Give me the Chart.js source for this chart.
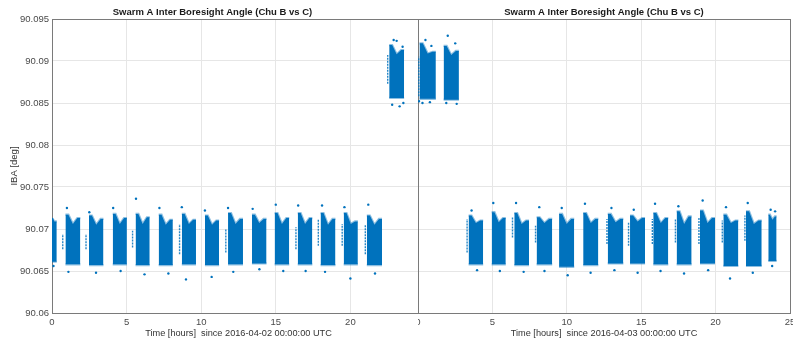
<!DOCTYPE html>
<html>
<head>
<meta charset="utf-8">
<script src="https://cdn.jsdelivr.net/npm/chart.js@4.4.1/dist/chart.umd.min.js"></script>
<style>
  html, body { margin: 0; padding: 0; background: #fff; }
  #wrap { position: relative; width: 793px; height: 339px; overflow: hidden; }
  .panel { position: absolute; top: 0; height: 339px; background: #fff; }
  #day1 { left: 0; width: 430px; }
  #day2 { left: 418px; width: 375px; }
</style>
</head>
<body>
<div id="wrap">
  <div class="panel" id="day1"><canvas id="day1Chart" width="430" height="339"></canvas></div>
  <div class="panel" id="day2"><canvas id="day2Chart" width="375" height="339"></canvas></div>
</div>
<script>
const xTicks = [0, 5, 10, 15, 20, 25];
const yTicks = [90.06, 90.065, 90.07, 90.075, 90.08, 90.085, 90.09, 90.095];
const yTickLabels = ["90.06", "90.065", "90.07", "90.075", "90.08", "90.085", "90.09", "90.095"];

// one row per pass: [start h, end h, top at start, top dip, top at end, bottom] in deg
const day1Passes = [
    [0.0, 0.32, 90.0713, 90.0709, 90.0709, 90.0661],
    [0.9, 1.9, 90.0717, 90.0706, 90.0713, 90.0658],
    [2.48, 3.45, 90.0716, 90.0705, 90.0712, 90.0657],
    [4.07, 5.02, 90.0718, 90.0706, 90.0713, 90.0658],
    [5.6, 6.55, 90.0718, 90.0706, 90.0714, 90.0657],
    [7.15, 8.1, 90.0717, 90.0705, 90.0711, 90.0657],
    [8.7, 9.65, 90.0718, 90.0706, 90.0711, 90.0658],
    [10.25, 11.2, 90.0716, 90.0705, 90.0710, 90.0657],
    [11.8, 12.8, 90.0719, 90.0706, 90.0712, 90.0658],
    [13.4, 14.38, 90.0717, 90.0707, 90.0712, 90.0659],
    [14.92, 15.9, 90.0719, 90.0706, 90.0713, 90.0658],
    [16.47, 17.45, 90.0719, 90.0706, 90.0713, 90.0658],
    [18.0, 19.0, 90.0719, 90.0705, 90.0712, 90.0657],
    [19.55, 20.5, 90.0719, 90.0706, 90.0709, 90.0658],
    [21.1, 22.12, 90.0716, 90.0705, 90.0712, 90.0657],
    [22.6, 23.6, 90.0919, 90.0908, 90.0913, 90.0856],
];
const day2Passes = [
    [0.1, 1.2, 90.0921, 90.0909, 90.0911, 90.0855],
    [1.72, 2.75, 90.0918, 90.0907, 90.0912, 90.0854],
    [3.4, 4.38, 90.0716, 90.0707, 90.0710, 90.0658],
    [4.95, 5.9, 90.0720, 90.0708, 90.0713, 90.0658],
    [6.47, 7.46, 90.0719, 90.0706, 90.0710, 90.0657],
    [7.97, 9.02, 90.0714, 90.0707, 90.0712, 90.0658],
    [9.48, 10.5, 90.0718, 90.0706, 90.0712, 90.0655],
    [11.1, 12.12, 90.0719, 90.0707, 90.0712, 90.0657],
    [12.75, 13.8, 90.0718, 90.0708, 90.0712, 90.0659],
    [14.25, 15.26, 90.0716, 90.0709, 90.0713, 90.0659],
    [15.81, 16.82, 90.0719, 90.0707, 90.0713, 90.0658],
    [17.38, 18.39, 90.0721, 90.0706, 90.0715, 90.0658],
    [18.95, 19.96, 90.0722, 90.0707, 90.0713, 90.0659],
    [20.52, 21.53, 90.0717, 90.0707, 90.0710, 90.0656],
    [22.04, 23.1, 90.0721, 90.0706, 90.0710, 90.0656],
    [23.54, 24.1, 90.0717, 90.0711, 90.0715, 90.0662],
];

// sparse samples just before a pass: [time h, low, high]
const day1Leads = [
    [0.72, 90.0676, 90.0694], [2.28, 90.0676, 90.0694], [5.4, 90.0678, 90.0698],
    [8.55, 90.0670, 90.0706], [11.65, 90.0672, 90.0700], [16.35, 90.0676, 90.0702],
    [17.85, 90.0680, 90.0712], [19.45, 90.0680, 90.0706], [21.0, 90.0670, 90.0705],
    [22.5, 90.0873, 90.0907],
];
const day2Leads = [
    [0.05, 90.0858, 90.0905], [3.3, 90.0672, 90.0712], [6.35, 90.0690, 90.0714],
    [7.9, 90.0684, 90.0704], [12.7, 90.0682, 90.0712], [14.15, 90.0680, 90.0708],
    [15.75, 90.0682, 90.0712], [17.3, 90.0684, 90.0712], [18.88, 90.0682, 90.0714],
    [20.45, 90.0684, 90.0710], [21.97, 90.0686, 90.0716],
];

// isolated samples outside the dense bands: [time h, deg]
const day1Outliers = [
    [1.0, 90.0725], [2.5, 90.0720], [4.1, 90.0725], [5.63, 90.0736], [7.2, 90.0725],
    [8.7, 90.0726], [10.25, 90.0722], [11.8, 90.0725], [13.45, 90.0724], [15.0, 90.0729],
    [16.5, 90.0728], [18.1, 90.0728], [19.6, 90.0726], [21.2, 90.0729],
    [1.1, 90.0649], [2.95, 90.0648], [6.2, 90.0646], [7.8, 90.0647], [8.98, 90.0640],
    [10.7, 90.0643], [12.15, 90.0649], [18.3, 90.0649], [20.0, 90.0641], [21.65, 90.0647],
    [0.1, 90.0656], [4.6, 90.0650], [13.9, 90.0652], [15.5, 90.0650], [17.0, 90.0650],
    [22.9, 90.0925], [23.1, 90.0924], [23.5, 90.0917], [22.8, 90.0848], [23.3, 90.0846], [23.55, 90.0850],
];
const day2Outliers = [
    [0.5, 90.0925], [0.9, 90.0918], [2.0, 90.0930], [2.5, 90.0921], [0.3, 90.0850],
    [0.8, 90.0851], [1.9, 90.0850], [2.6, 90.0849], [0.07, 90.0852],
    [19.13, 90.0734], [5.06, 90.0731], [6.59, 90.0731], [15.93, 90.0730], [22.16, 90.0731],
    [11.22, 90.0730], [9.66, 90.0725], [8.15, 90.0726], [3.6, 90.0722], [13.0, 90.0725],
    [14.5, 90.0723], [17.5, 90.0727], [20.7, 90.0726], [23.7, 90.0723], [24.0, 90.0721],
    [20.97, 90.0641], [10.06, 90.0645], [14.76, 90.0648], [17.88, 90.0647], [22.5, 90.0648],
    [3.97, 90.0651], [5.5, 90.0650], [7.1, 90.0649], [8.5, 90.0650], [11.6, 90.0648],
    [13.2, 90.0651], [16.3, 90.0650], [19.5, 90.0651], [23.8, 90.0656],
];

const BLUE = "#0072BD";
const FUZZ = "rgba(0, 114, 189, 0.45)";
const GRID = "#e6e6e6";
const AXIS = "#7a7a7a";
const TICK = "#4a4a4a";
const FONT = "'Liberation Sans', Arial, Helvetica, sans-serif";

Chart.defaults.font.family = FONT;
Chart.defaults.color = TICK;

function envelopes(passes) {
    const upper = [];
    const lower = [];
    passes.forEach(([t0, t1, topStart, dip, topEnd, bottom]) => {
        const w = t1 - t0;
        upper.push(
            { x: t0, y: topStart }, { x: t0 + 0.2 * w, y: topStart },
            { x: t0 + 0.5 * w, y: dip }, { x: t0 + 0.8 * w, y: topEnd },
            { x: t1, y: topEnd }, { x: t1, y: null }
        );
        lower.push({ x: t0, y: bottom }, { x: t1, y: bottom }, { x: t1, y: null });
    });
    return { upper, lower };
}

function leadSegments(leads) {
    const pts = [];
    leads.forEach(([t, lo, hi]) => pts.push({ x: t, y: lo }, { x: t, y: hi }, { x: t, y: null }));
    return pts;
}

// keep the plot box fixed: no extra room for half-labels at the ends of the time axis
function fixTimeAxis(height) {
    return (s) => {
        s.height = height;
        s.paddingLeft = 0;
        s.paddingRight = 0;
    };
}

function buildPanel(canvasId, opts) {
    const env = envelopes(opts.passes);
    const showY = opts.showYLabels;

    const scales = {
        x: {
            type: "linear",
            min: 0,
            max: 25,
            afterBuildTicks: (s) => { s.ticks = xTicks.map(v => ({ value: v })); },
            afterFit: fixTimeAxis(26),
            grid: { color: GRID, drawTicks: false },
            border: { color: AXIS },
            ticks: { padding: 4, font: { size: 9.5 }, color: TICK, maxRotation: 0 },
            title: {
                display: true,
                text: opts.xTitle,
                font: { size: 9.2 },
                color: "#333",
                padding: { top: 0, bottom: 0 },
            },
        },
        xTop: {
            type: "linear",
            position: "top",
            min: 0,
            max: 25,
            afterFit: fixTimeAxis(0),
            grid: { drawOnChartArea: false, drawTicks: false },
            border: { color: AXIS },
            ticks: { display: false },
        },
        y: {
            min: 90.06,
            max: 90.095,
            afterBuildTicks: (s) => { s.ticks = yTicks.map(v => ({ value: v })); },
            afterFit: (s) => { s.width = showY ? 52 : 0; },
            grid: { color: GRID, drawTicks: false },
            border: { color: AXIS },
            ticks: {
                display: showY,
                padding: 3,
                font: { size: 9.5 },
                color: TICK,
                callback: (v, i) => yTickLabels[i],
            },
            title: {
                display: showY,
                text: "IBA [deg]",
                font: { size: 9.5 },
                color: "#333",
                padding: { top: 9, bottom: 0 },
            },
        },
    };
    if (opts.rightFrame) {
        scales.yRight = {
            position: "right",
            min: 90.06,
            max: 90.095,
            afterFit: (s) => { s.width = 0; },
            grid: { drawOnChartArea: false, drawTicks: false },
            border: { color: AXIS },
            ticks: { display: false },
        };
    }

    return new Chart(document.getElementById(canvasId).getContext("2d"), {
        type: "line",
        data: {
            datasets: [
                {
                    data: opts.outliers.map(([x, y]) => ({ x, y })),
                    showLine: false,
                    pointRadius: 1.2,
                    pointBorderWidth: 0,
                    pointBackgroundColor: BLUE,
                },
                {
                    data: leadSegments(opts.leads),
                    borderColor: "rgba(0, 114, 189, 0.85)",
                    borderWidth: 1.4,
                    borderDash: [2, 1],
                    pointRadius: 0,
                    fill: false,
                },
                {
                    data: env.upper,
                    borderColor: FUZZ,
                    borderWidth: 2.2,
                    pointRadius: 0,
                    fill: false,
                },
                {
                    data: env.lower,
                    borderColor: FUZZ,
                    borderWidth: 2.2,
                    pointRadius: 0,
                    backgroundColor: BLUE,
                    fill: "-1",
                },
            ],
        },
        options: {
            responsive: false,
            animation: false,
            devicePixelRatio: 1,
            spanGaps: false,
            layout: { autoPadding: false, padding: opts.padding },
            scales,
            plugins: {
                legend: { display: false },
                tooltip: { enabled: false },
                title: {
                    display: true,
                    text: "Swarm A Inter Boresight Angle (Chu B vs C)",
                    font: { size: 9.5, weight: "bold", lineHeight: 1.2 },
                    color: "#1a1a1a",
                    padding: { top: 7, bottom: 0.6 },
                },
            },
        },
    });
}

buildPanel("day1Chart", {
    passes: day1Passes,
    leads: day1Leads,
    outliers: day1Outliers,
    xTitle: "Time [hours]  since 2016-04-02 00:00:00 UTC",
    showYLabels: true,
    rightFrame: false,
    padding: { left: 0, right: 5, top: 0, bottom: 0 },
});

buildPanel("day2Chart", {
    passes: day2Passes,
    leads: day2Leads,
    outliers: day2Outliers,
    xTitle: "Time [hours]  since 2016-04-03 00:00:00 UTC",
    showYLabels: false,
    rightFrame: true,
    padding: { left: 0, right: 3, top: 0, bottom: 0 },
});
</script>
</body>
</html>
